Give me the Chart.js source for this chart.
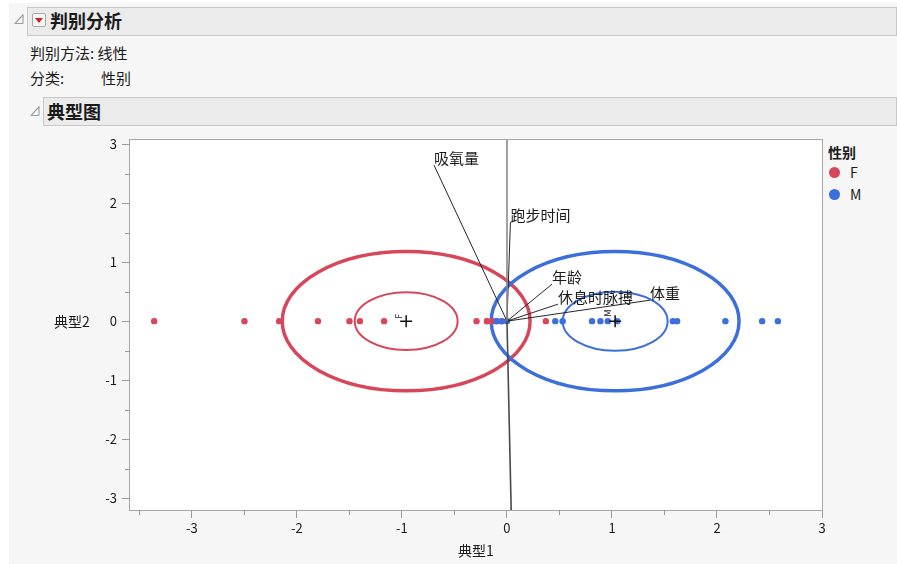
<!DOCTYPE html>
<html>
<head>
<meta charset="utf-8">
<title>判别分析 - 典型图</title>
<script src="https://cdn.jsdelivr.net/npm/chart.js@4/dist/chart.umd.min.js"></script>
<style>
  html, body { margin:0; padding:0; width:897px; height:564px; overflow:hidden; background:#ffffff;
    font-family:"Noto Sans CJK SC","Noto Sans",sans-serif; color:#1a1a1a; }
  #panel { position:absolute; left:9px; top:3px; width:888px; height:561px; background:#f6f6f6; }
  .bar { position:absolute; background:#ebebeb; border:1px solid #c8c8c8; box-sizing:border-box; }
  .txt { position:absolute; white-space:nowrap; }
  .tri { position:absolute; color:#8a8a8a; font-size:12px; line-height:14px; }
  #btn { position:absolute; left:32px; top:13px; width:14px; height:14px; box-sizing:border-box;
    border:1px solid #a9a9a9; border-radius:2px; background:#f7f7f7; }
  #btn::after { content:""; position:absolute; left:2px; top:4px; width:0; height:0;
    border-left:4px solid transparent; border-right:4px solid transparent; border-top:5px solid #d2202c; }
  .dot { position:absolute; width:11px; height:11px; border-radius:50%; }
  #chart { position:absolute; left:0; top:0; }
</style>
</head>
<body>
<div id="panel"></div>

<!-- report outline -->
<div class="tri" style="left:13px;top:12px;">⊿</div>
<div class="bar" style="left:27px;top:7px;width:870px;height:29px;"></div>
<div id="btn"></div>
<div class="txt" style="left:50px;top:9px;font-size:18px;line-height:22px;font-weight:bold;">判别分析</div>
<div class="txt" style="left:30px;top:44px;font-size:15px;line-height:18px;">判别方法: 线性</div>
<div class="txt" style="left:30px;top:69px;font-size:15px;line-height:18px;">分类:</div>
<div class="txt" style="left:101px;top:69px;font-size:15px;line-height:18px;">性别</div>
<div class="tri" style="left:29px;top:104px;">⊿</div>
<div class="bar" style="left:43px;top:97px;width:854px;height:29px;"></div>
<div class="txt" style="left:47px;top:100px;font-size:18px;line-height:22px;font-weight:bold;">典型图</div>

<!-- legend -->
<div class="txt" style="left:828px;top:143px;font-size:14px;line-height:18px;font-weight:bold;">性别</div>
<div class="dot" style="left:829px;top:167px;background:#d8465a;"></div>
<div class="txt" style="left:850px;top:163px;font-size:14px;line-height:18px;">F</div>
<div class="dot" style="left:829px;top:189px;background:#3c6fdc;"></div>
<div class="txt" style="left:850px;top:185px;font-size:14px;line-height:18px;">M</div>

<canvas id="chart" width="897" height="564"></canvas>

<script>
// Canonical scores (典型1, 典型2) for each group
const groups = ['F', 'M'];
const canon1F = [-3.36, -2.50, -2.17, -1.80, -1.50, -1.40, -1.17, -0.29, -0.19, -0.19, -0.14, -0.10, -0.05, 0.37];
const canon2F = [0, 0, 0, 0, 0, 0, 0, 0, 0, 0, 0, 0, 0, 0];
const canon1M = [-0.10, -0.05, 0.00, 0.46, 0.53, 0.81, 0.89, 0.96, 1.05, 1.58, 1.62, 2.08, 2.43, 2.58];
const canon2M = [0, 0, 0, 0, 0, 0, 0, 0, 0, 0, 0, 0, 0, 0];

// Group means and contour radii (canonical units)
const groupMean1 = [-0.96, 1.03];
const groupMean2 = [0, 0];
const contourRadius = [1.18, 1.18];   // normal 50% contour
const meanCIRadius = [0.49, 0.50];    // 95% confidence region of the mean

// Biplot rays for the covariates (endpoint in canonical units)
const rayNames = ['吸氧量', '跑步时间', '年龄', '休息时脉搏', '体重', '', ''];
const rayEnd1 = [-0.695, 0.033, 0.429, 0.486, 1.362, 0.000, 0.050];
const rayEnd2 = [2.644, 1.678, 0.627, 0.288, 0.356, 3.600, -4.000];

// Axis ticks
const xTicks = [-3, -2, -1, 0, 1, 2, 3];
const yTicks = [-3, -2, -1, 0, 1, 2, 3];
const xMinorTicks = [-3.5, -2.5, -1.5, -0.5, 0.5, 1.5, 2.5];
const yMinorTicks = [-2.5, -1.5, -0.5, 0.5, 1.5, 2.5];

const groupColors = ['#d8465a', '#3c6fdc'];
const FONT = '"Noto Sans CJK SC","Noto Sans",sans-serif';

const toPoints = (xs, ys) => xs.map((v, i) => ({ x: v, y: ys[i] }));

const canonPlot = {
  id: 'canonPlot',
  beforeDraw(chart) {
    const { ctx, chartArea: a } = chart;
    ctx.save();
    ctx.fillStyle = '#ffffff';
    ctx.fillRect(a.left, a.top, a.right - a.left, a.bottom - a.top);
    ctx.restore();
  },
  beforeDatasetsDraw(chart) {
    const { ctx, chartArea: a } = chart;
    const xs = chart.scales.x, ys = chart.scales.y;
    ctx.save();
    ctx.beginPath();
    ctx.rect(a.left, a.top, a.right - a.left, a.bottom - a.top);
    ctx.clip();
    groups.forEach((g, i) => {
      const cx = xs.getPixelForValue(groupMean1[i]);
      const cy = ys.getPixelForValue(groupMean2[i]);
      [[contourRadius[i], 3.5], [meanCIRadius[i], 2]].forEach(([r, w]) => {
        const rx = Math.abs(xs.getPixelForValue(groupMean1[i] + r) - cx);
        const ry = Math.abs(ys.getPixelForValue(groupMean2[i] + r) - cy);
        ctx.beginPath();
        ctx.ellipse(cx, cy, rx, ry, 0, 0, Math.PI * 2);
        ctx.strokeStyle = groupColors[i];
        ctx.lineWidth = w;
        ctx.stroke();
      });
    });
    ctx.restore();
  },
  afterDatasetsDraw(chart) {
    const { ctx, chartArea: a } = chart;
    const xs = chart.scales.x, ys = chart.scales.y;
    ctx.save();
    ctx.beginPath();
    ctx.rect(a.left, a.top, a.right - a.left, a.bottom - a.top);
    ctx.clip();
    const ox = xs.getPixelForValue(0), oy = ys.getPixelForValue(0);
    // covariate rays
    rayNames.forEach((name, i) => {
      const ex = xs.getPixelForValue(rayEnd1[i]);
      const ey = ys.getPixelForValue(rayEnd2[i]);
      ctx.beginPath();
      ctx.moveTo(ox, oy);
      ctx.lineTo(ex, ey);
      ctx.strokeStyle = name ? '#262626' : (rayEnd2[i] > 0 ? '#8a8a8a' : '#4a4a4a');
      ctx.lineWidth = name ? 1 : 1.6;
      ctx.stroke();
    });
    ctx.font = '15px ' + FONT;
    ctx.fillStyle = '#1a1a1a';
    ctx.textAlign = 'left';
    ctx.textBaseline = 'middle';
    rayNames.forEach((name, i) => {
      if (!name) return;
      const ex = xs.getPixelForValue(rayEnd1[i]);
      const ey = ys.getPixelForValue(rayEnd2[i]);
      ctx.fillText(name, ex, ey - 7);
    });
    // group means: cross and rotated group name
    groups.forEach((g, i) => {
      const cx = xs.getPixelForValue(groupMean1[i]);
      const cy = ys.getPixelForValue(groupMean2[i]);
      ctx.beginPath();
      ctx.moveTo(cx - 6, cy); ctx.lineTo(cx + 6, cy);
      ctx.moveTo(cx, cy - 6); ctx.lineTo(cx, cy + 6);
      ctx.strokeStyle = '#111';
      ctx.lineWidth = 1.5;
      ctx.stroke();
      ctx.save();
      ctx.translate(cx - 8, cy - (i === 0 ? 5 : 8));
      ctx.rotate(-Math.PI / 2);
      ctx.font = '9px ' + FONT;
      ctx.textAlign = 'center';
      ctx.textBaseline = 'middle';
      ctx.fillStyle = '#222';
      ctx.fillText(g, 0, 0);
      ctx.restore();
    });
    ctx.restore();
  },
  afterDraw(chart) {
    const { ctx, chartArea: a } = chart;
    const xs = chart.scales.x, ys = chart.scales.y;
    ctx.save();
    // frame
    ctx.strokeStyle = '#a6a6a6';
    ctx.lineWidth = 1;
    ctx.strokeRect(a.left - 0.5, a.top - 0.5, a.right - a.left + 1, a.bottom - a.top + 1);
    // minor ticks
    ctx.beginPath();
    xMinorTicks.forEach(v => {
      const px = Math.round(xs.getPixelForValue(v)) + 0.5;
      if (px < a.left || px > a.right) return;
      ctx.moveTo(px, a.bottom); ctx.lineTo(px, a.bottom + 5);
    });
    yMinorTicks.forEach(v => {
      const py = Math.round(ys.getPixelForValue(v)) + 0.5;
      ctx.moveTo(a.left, py); ctx.lineTo(a.left - 5, py);
    });
    ctx.strokeStyle = '#9a9a9a';
    ctx.stroke();
    // axis titles
    ctx.font = '14px ' + FONT;
    ctx.fillStyle = '#1a1a1a';
    ctx.textBaseline = 'middle';
    ctx.textAlign = 'center';
    ctx.fillText('典型1', (a.left + a.right) / 2, 551);
    ctx.fillText('典型2', 72, ys.getPixelForValue(0) + 1);
    ctx.restore();
  }
};

new Chart(document.getElementById('chart'), {
  type: 'scatter',
  data: {
    datasets: [
      { label: 'F', order: 1, data: toPoints(canon1F, canon2F), backgroundColor: groupColors[0], borderWidth: 0, pointRadius: 3.2 },
      { label: 'M', order: 0, data: toPoints(canon1M, canon2M), backgroundColor: groupColors[1], borderWidth: 0, pointRadius: 3.2 }
    ]
  },
  options: {
    responsive: false,
    animation: false,
    events: [],
    layout: { padding: { left: 70, right: 75, top: 140, bottom: 0 } },
    plugins: { legend: { display: false }, tooltip: { enabled: false } },
    scales: {
      x: {
        type: 'linear', min: -3.59, max: 3,
        afterBuildTicks: s => { s.ticks = xTicks.map(v => ({ value: v })); },
        afterFit: s => { s.height = 54; },
        border: { display: false },
        grid: { display: true, drawOnChartArea: false, drawTicks: true, tickLength: 8, color: '#9a9a9a' },
        ticks: { padding: 2, color: '#1a1a1a', font: { family: FONT, size: 13 }, maxRotation: 0 }
      },
      y: {
        type: 'linear', min: -3.2, max: 3.07,
        afterBuildTicks: s => { s.ticks = yTicks.map(v => ({ value: v })); },
        afterFit: s => { s.width = 60; },
        border: { display: false },
        grid: { display: true, drawOnChartArea: false, drawTicks: true, tickLength: 8, color: '#9a9a9a' },
        ticks: { padding: 5, color: '#1a1a1a', font: { family: FONT, size: 13 } }
      }
    }
  },
  plugins: [canonPlot]
});
</script>
</body>
</html>
